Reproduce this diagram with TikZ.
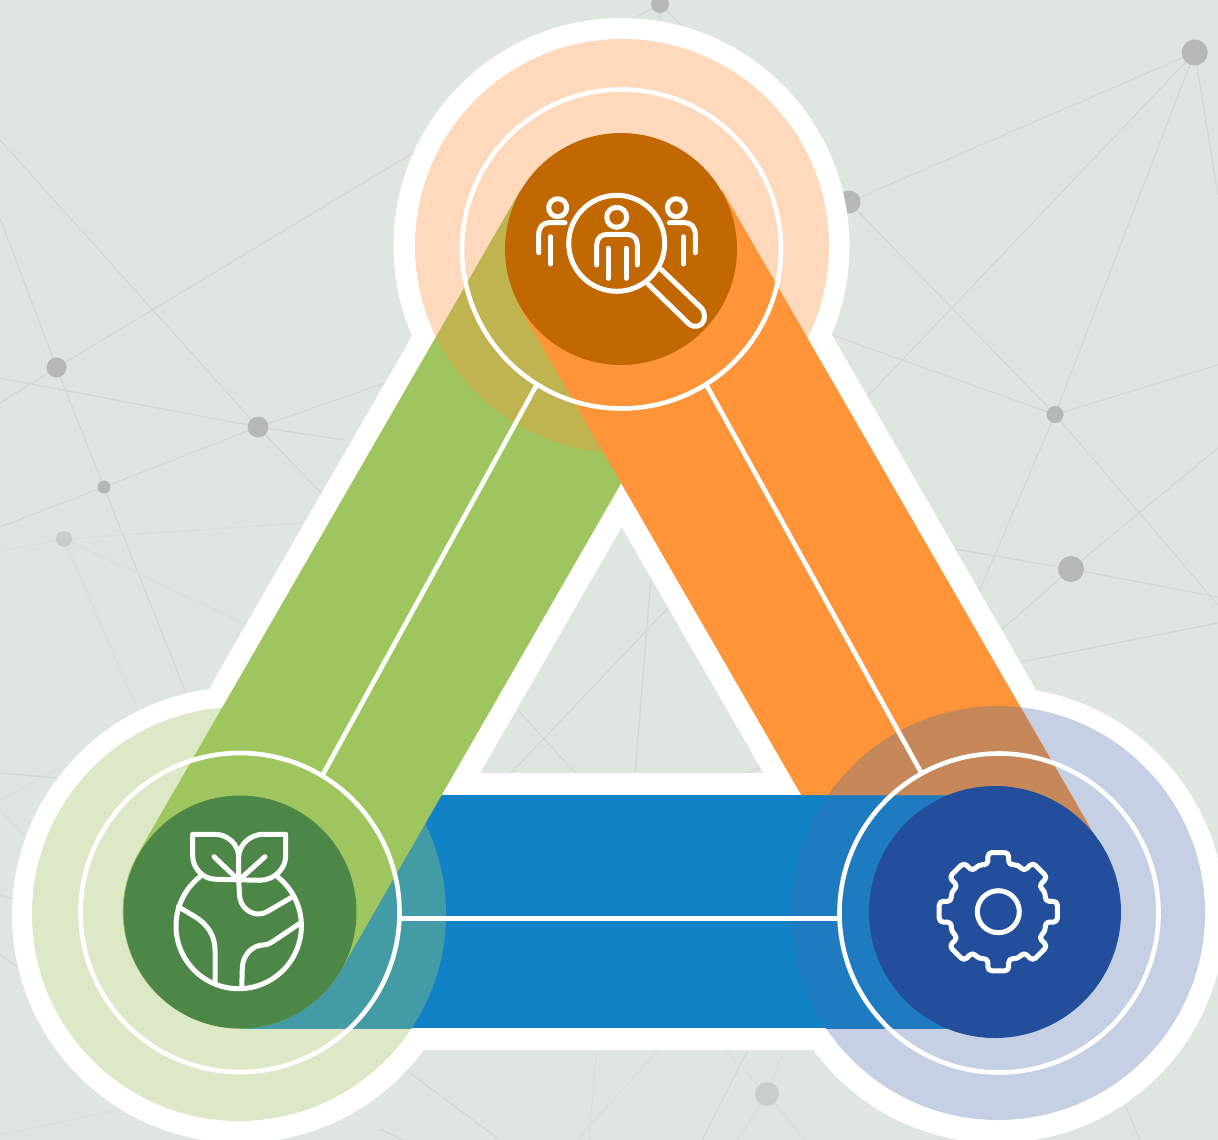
\documentclass[tikz,border=0pt]{standalone}
\definecolor{bgc}{HTML}{DFE6DF}
\definecolor{netc}{HTML}{D3D8D2}
\definecolor{netf}{HTML}{DAE0D9}
\definecolor{dotc}{HTML}{B4B9B3}
\definecolor{dotf}{HTML}{C9CEC8}
\definecolor{lightT}{HTML}{FFD9BC}
\definecolor{lightL}{HTML}{DDE9C6}
\definecolor{lightR}{HTML}{C6D0E4}
\definecolor{darkT}{HTML}{C26802}
\definecolor{darkL}{HTML}{4C8747}
\definecolor{darkR}{HTML}{234E9B}
\definecolor{bandG}{HTML}{9FC65E}
\definecolor{bandO}{HTML}{FF9538}
\definecolor{bandB}{HTML}{1082C5}
\definecolor{mixGT}{HTML}{BFB44F}
\definecolor{mixBL}{HTML}{439CA5}
\definecolor{mixOR}{HTML}{C68859}
\definecolor{mixBR}{HTML}{1F7BC1}
\tikzset{
  netline/.style={draw=netc,line width=1.3pt},
  netfaint/.style={draw=netf,line width=1.2pt},
  netdot/.style={circle,fill=dotc,inner sep=0pt,outer sep=0pt},
  netdotf/.style={circle,fill=dotf,inner sep=0pt,outer sep=0pt},
  ringc/.style={circle,draw=white,line width=4.6pt,inner sep=0pt,outer sep=0pt,minimum size=319pt},
  corec/.style={circle,inner sep=0pt,outer sep=0pt},
  tie/.style={draw=white,line width=4.6pt},
  icon/.style={draw=white,line width=5pt,line cap=round,line join=round},
}
\begin{document}
\begin{tikzpicture}[x=1pt,y=-1pt]
\useasboundingbox (0,0) rectangle (1218,1140);
\clip (0,0) rectangle (1218,1140);
\fill[bgc] (0,0) rectangle (1218,1140);

% --- background network: dot centres and free line ends
\path
 coordinate (n1) at (1194.7,52.5) coordinate (n2) at (849,202) coordinate (n3) at (56.5,367.5)
 coordinate (n4) at (258,427) coordinate (n5) at (104,487) coordinate (n6) at (64,539)
 coordinate (n7) at (1055,414.5) coordinate (n8) at (1071,569) coordinate (n9) at (767,1094)
 coordinate (n10) at (660,4)
 coordinate (a01) at (0,140) coordinate (a02) at (413,153) coordinate (a03) at (0,403)
 coordinate (a04) at (0,218) coordinate (a05) at (0,378) coordinate (a06) at (385,383)
 coordinate (a07) at (345,440) coordinate (a08) at (325,497) coordinate (a09) at (0,527)
 coordinate (a10) at (190,703) coordinate (a11) at (0,551) coordinate (a12) at (303,523)
 coordinate (a13) at (250,626) coordinate (a14) at (137,708)
 coordinate (b01) at (867,397) coordinate (b02) at (979,592) coordinate (b03) at (1218,195)
 coordinate (b04) at (832,335) coordinate (b05) at (1218,365) coordinate (b06) at (1218,605)
 coordinate (b07) at (1218,448) coordinate (b08) at (1000,631) coordinate (b09) at (955,549)
 coordinate (b10) at (1218,597) coordinate (b11) at (1020,662) coordinate (b12) at (1218,623)
 coordinate (c01) at (668,608) coordinate (c02) at (511,773) coordinate (c03) at (651,578)
 coordinate (c04) at (635,775) coordinate (c05) at (517,709) coordinate (c06) at (577,775)
 coordinate (c07) at (748,773) coordinate (c08) at (765,766)
 coordinate (d01) at (406,1070) coordinate (d02) at (500,1140) coordinate (d03) at (380,1129)
 coordinate (d04) at (403,1140) coordinate (d05) at (597,1048) coordinate (d06) at (589,1140)
 coordinate (d07) at (660,1048) coordinate (d08) at (577,1140) coordinate (d09) at (749,1048)
 coordinate (d10) at (702,1140) coordinate (d11) at (785,1048) coordinate (d12) at (738,1140)
 coordinate (d13) at (723,1048) coordinate (d14) at (805,1140) coordinate (d15) at (1125,1105)
 coordinate (d16) at (1140,1140)
 coordinate (e01) at (0,773) coordinate (e02) at (58,778) coordinate (e03) at (0,800)
 coordinate (e04) at (62,767) coordinate (e05) at (0,810) coordinate (e06) at (24,835)
 coordinate (e07) at (0,895) coordinate (e08) at (12,899) coordinate (e09) at (0,955)
 coordinate (e10) at (18,967) coordinate (e11) at (0,1135) coordinate (e12) at (122,1109)
 coordinate (f01) at (635,18) coordinate (f02) at (660,22) coordinate (f03) at (682,26);

% --- background network: lines
\draw[netline] (a01)--(n4) (a03)--(n3) (n3)--(a02) (a04)--(n3) (n3)--(n5)
 (a05)--(n4) (n4)--(a06) (n4)--(a07) (n4)--(a08)
 (n4)--(n5) (n5)--(a09) (n5)--(a10);
\draw[netfaint] (a11)--(n6) (n6)--(a12) (n6)--(a13) (n6)--(a14);
\draw[netline] (n1)--(n2) (n1)--(b01) (n1)--(n7) (n1)--(b03)
 (n2)--(n7) (b04)--(n7) (n7)--(b05) (n7)--(b06) (n7)--(b02)
 (n8)--(b07) (n8)--(b08) (n8)--(b09) (n8)--(b10) (b11)--(b12);
\draw[netline] (c01)--(c02) (c03)--(c04) (c05)--(c06) (c07)--(c08);
\draw[netline] (d01)--(d02) (d03)--(d04) (d09)--(d10) (d15)--(d16);
\draw[netfaint] (d05)--(d06) (d07)--(d08) (d11)--(n9) (n9)--(d12) (d13)--(n9) (n9)--(d14);
\draw[netline] (e01)--(e02) (e07)--(e08) (e09)--(e10);
\draw[netfaint] (e03)--(e04) (e05)--(e06) (e11)--(e12);
\draw[netline] (n10)--(f01) (n10)--(f02) (n10)--(f03);

% --- background network: dots
\node[netdot,minimum size=26pt] (dot1) at (n1) {};
\node[netdot,minimum size=23pt] (dot2) at (n2) {};
\node[netdot,minimum size=20pt] (dot3) at (n3) {};
\node[netdot,minimum size=21pt] (dot4) at (n4) {};
\node[netdot,minimum size=13pt] (dot5) at (n5) {};
\node[netdotf,minimum size=16pt] (dot6) at (n6) {};
\node[netdot,minimum size=17pt] (dot7) at (n7) {};
\node[netdot,minimum size=26pt] (dot8) at (n8) {};
\node[netdotf,minimum size=24pt] (dot9) at (n9) {};
\node[netdot,minimum size=18pt] (dot10) at (n10) {};

% --- white halo
\fill[white,even odd rule]
  (412,336)--(832,335)--(1035,688)--(997,915)--(815,1050)--(421,1050)--(240,915)--(210,687)--cycle
  (621.7,527)--(480,773)--(763.5,773)--cycle;
\fill[white] (621.5,246) circle[radius=228pt] (240,915) circle[radius=228pt] (997,915) circle[radius=228pt];

% --- pale discs
\fill[lightT] (622,246) circle[radius=207pt];
\fill[lightL] (239,914) circle[radius=207pt];
\fill[lightR] (998,913) circle[radius=207pt];

% --- blue band
\fill[bandB] (240,795) rectangle (995,1028);
\begin{scope}
  \clip (240,795) rectangle (995,1028);
  \fill[mixBL] (239,914) circle[radius=207pt];
  \fill[mixBR] (998,913) circle[radius=207pt];
\end{scope}

% --- green band
\fill[bandG] (520,191)--(722,308)--(341,970) arc[start angle=-30,end angle=-210,radius=117pt]--cycle;
\begin{scope}
  \clip (520,191)--(722,308)--(341,970)--(139,854)--cycle;
  \fill[mixGT] (622,246) circle[radius=207pt];
\end{scope}

% --- orange band
\fill[bandO] (722.3,190.5)--(1071.3,795)--(801.2,795)--(519.7,307.5)--cycle;
\begin{scope}
  \clip (722.3,190.5)--(1071.3,795)--(801.2,795)--(519.7,307.5)--cycle;
  \fill[mixOR] (998,913) circle[radius=207pt];
\end{scope}
\fill[mixOR] (990,795)--(1071.5,795)--(1103,850)--(990,850)--cycle;

% --- cores
\node[corec,fill=darkT,minimum size=232pt] (coreT) at (621,249) {};
\node[corec,fill=darkL,minimum size=233pt] (coreL) at (240,912) {};
\node[corec,fill=darkR,minimum size=252pt] (coreR) at (995,912) {};

% --- rings and ties
\node[ringc] (ringT) at (621.5,249) {};
\node[ringc] (ringL) at (240,912.5) {};
\node[ringc] (ringR) at (999,913) {};
\draw[tie] (ringT.238)--(ringL.59.5);
\draw[tie] (ringT.-58)--(ringR.119);
\coordinate (tieL) at ([yshift=-6.2pt]ringL.east);
\draw[tie] (tieL)--(tieL -| ringR.west);

% --- people icon
\begin{scope}[icon]
  \draw (616.7,243.3) circle[radius=48pt];
  \draw (648.3,284.3)--(688.3,323.3) .. controls (694,329) and (702,326.5) .. (704,320) .. controls (705,315.5) and (704,311) .. (701.7,308.3)--(661,269.3);
  \draw (616.7,217.3) circle[radius=10pt];
  \draw (596.7,265)--(596.7,245) .. controls (596.7,238) and (601,234.3) .. (608,234.3)--(626,234.3) .. controls (633,234.3) and (637.3,238) .. (637.3,245)--(637.3,265);
  \draw (608,248.3)--(608,278.3) (626,248.3)--(626,278.3);
  \draw (557.7,207.7) circle[radius=9pt];
  \draw (538.7,252.7)--(538.7,235) .. controls (538.7,227) and (543,222.7) .. (549,222.7)--(565,222.7);
  \draw (550.7,236.7)--(550.7,264);
  \draw (676.3,207.7) circle[radius=9pt];
  \draw (695.3,252.7)--(695.3,235) .. controls (695.3,227) and (691,222.7) .. (685,222.7)--(669.3,222.7);
  \draw (683.3,236.7)--(683.3,264);
\end{scope}

% --- earth icon
\begin{scope}[icon]
  \path coordinate (gc) at (238.7,926);
  \draw (gc) ++(125.2:62.7pt) arc[start angle=125.2,end angle=412,radius=62.7pt];
  \draw (238.7,857) .. controls (238.7,845) and (228,834.3) .. (215,834.3)--(192.7,834.3)--(192.7,856) .. controls (192.7,868) and (203,879.3) .. (216,879.3)--(260,880.3) .. controls (275,880) and (285.7,868) .. (285.7,856)--(285.7,834.3)--(263,834.3) .. controls (250,834.3) and (239,845) .. (238.7,857)--(238.7,880);
  \draw (214,856.7)--(238.7,880.3)--(265,856.7);
  \draw (238.7,880) -- (239.5,895) .. controls (240,907) and (250,914) .. (258.3,914) .. controls (263,914) and (267,912) .. (270,910)--(291.7,897.3);
  \draw (241.7,988)--(242.3,968) .. controls (242.7,955) and (252,945.5) .. (263,945) .. controls (268,945) and (272,942) .. (275,940)--(300,923.3);
  \draw (178.3,906.7)--(195,916.7) .. controls (207,924) and (215,935) .. (215,950)--(215,981.7);
\end{scope}

% --- gear icon
\begin{scope}[icon]
  \draw (998.3,911.7) circle[radius=21pt];
  \draw[rounded corners=4pt,shift={(998.3,911.7)}]
    (-10:60pt)
    \foreach \t in {0,45,...,270}{
      -- (\t+10:60pt) -- (\t+12.5:48pt) -- (\t+22.5:51pt) -- (\t+32.5:48pt) -- (\t+35:60pt)
    }
    -- (325:60pt) -- (327.5:48pt) -- (337.5:51pt) -- (347.5:48pt) -- cycle;
\end{scope}
\end{tikzpicture}
\end{document}
